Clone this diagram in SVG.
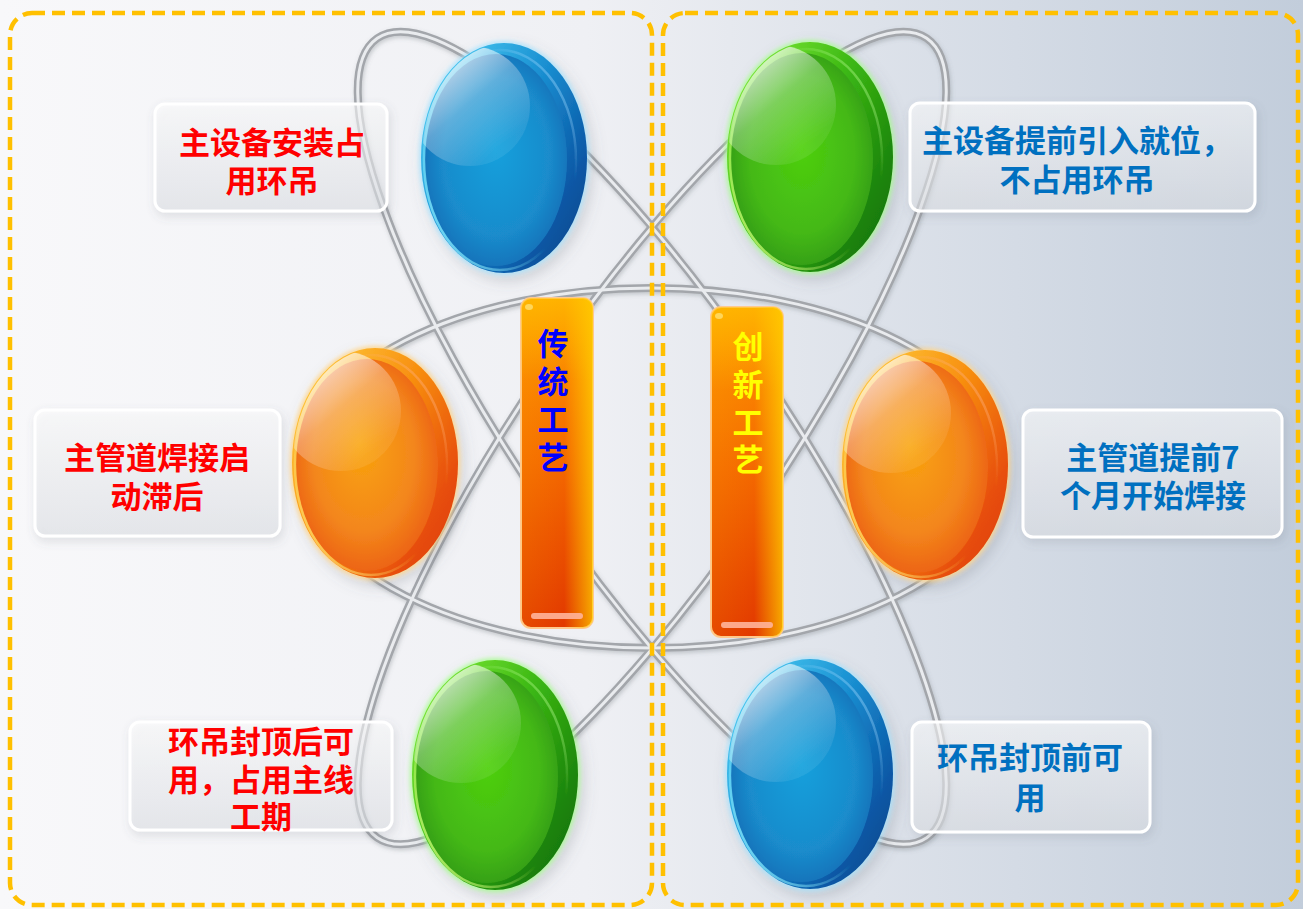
<svg xmlns="http://www.w3.org/2000/svg" xmlns:xlink="http://www.w3.org/1999/xlink" width="1303" height="909" viewBox="0 0 1303 909">
  <style>
    .orbit { fill: none; stroke: #a3a6ab; stroke-width: 8; }
    .orbit-hi { fill: none; stroke: #e9ebee; stroke-width: 3; }
    .box { fill: url(#boxFill); stroke: #ffffff; stroke-width: 3; filter: url(#boxShadow); }
    .label { font-family: "Noto Sans CJK SC", "Noto Sans", sans-serif; font-weight: bold; font-size: 31px; text-anchor: middle; }
    .red { fill: #ff0000; }
    .blue { fill: #0070c0; }
    .bar-text { font-family: "Noto Sans CJK SC", "Noto Sans", sans-serif; font-weight: bold; font-size: 31px; text-anchor: middle; }
    .frame { fill: none; stroke: #ffc000; stroke-width: 4.5; stroke-dasharray: 13 7; }
  </style>
  <defs>
    <linearGradient id="bg" x1="0" y1="0" x2="1" y2="0">
      <stop offset="0" stop-color="#f8f8fa"/>
      <stop offset="0.45" stop-color="#eff0f4"/>
      <stop offset="1" stop-color="#c2cddb"/>
    </linearGradient>
    <linearGradient id="boxFill" x1="0" y1="0" x2="0" y2="1">
      <stop offset="0" stop-color="#ffffff" stop-opacity="0.55"/>
      <stop offset="1" stop-color="#dfe2e7" stop-opacity="0.55"/>
    </linearGradient>
    <filter id="boxShadow" x="-20%" y="-20%" width="140%" height="150%">
      <feDropShadow dx="2" dy="4" stdDeviation="5" flood-color="#5a6070" flood-opacity="0.22"/>
    </filter>
    <filter id="orbShadow" x="-30%" y="-30%" width="160%" height="160%">
      <feDropShadow dx="4" dy="6" stdDeviation="7" flood-color="#5a6070" flood-opacity="0.25"/>
    </filter>
    <filter id="lineShadow" x="-10%" y="-10%" width="120%" height="120%">
      <feDropShadow dx="1" dy="2" stdDeviation="2" flood-color="#606870" flood-opacity="0.3"/>
    </filter>
    <filter id="blur2"><feGaussianBlur stdDeviation="2"/></filter>

    <!-- gloss shared by every orb -->
    <linearGradient id="gloss" x1="0.1" y1="0.1" x2="0.75" y2="0.85">
      <stop offset="0" stop-color="#ffffff" stop-opacity="0.95"/>
      <stop offset="0.55" stop-color="#ffffff" stop-opacity="0.3"/>
      <stop offset="1" stop-color="#ffffff" stop-opacity="0.08"/>
    </linearGradient>
    <clipPath id="orbClip"><ellipse cx="0" cy="0" rx="82" ry="114"/></clipPath>

    <!-- blue -->
    <linearGradient id="rimBlue" x1="0" y1="0.1" x2="1" y2="0.9">
      <stop offset="0" stop-color="#4fd2f6"/>
      <stop offset="0.45" stop-color="#1a90d2"/>
      <stop offset="0.8" stop-color="#0a58a6"/>
      <stop offset="1" stop-color="#07468a"/>
    </linearGradient>
    <radialGradient id="faceBlue" cx="0.5" cy="0.5" r="0.62" fx="0.5" fy="0.45">
      <stop offset="0" stop-color="#12a0dc"/>
      <stop offset="0.6" stop-color="#1a8ccc"/>
      <stop offset="1" stop-color="#1462ae"/>
    </radialGradient>
    <linearGradient id="lineBlue" x1="0" y1="1" x2="1" y2="0">
      <stop offset="0" stop-color="#8ff0ff" stop-opacity="1"/>
      <stop offset="0.45" stop-color="#8ff0ff" stop-opacity="0"/>
      <stop offset="0.7" stop-color="#9fd8ff" stop-opacity="0"/>
      <stop offset="1" stop-color="#9fd8ff" stop-opacity="0.8"/>
    </linearGradient>

    <!-- green -->
    <linearGradient id="rimGreen" x1="0" y1="0.1" x2="1" y2="0.9">
      <stop offset="0" stop-color="#86ee3a"/>
      <stop offset="0.45" stop-color="#3cb814"/>
      <stop offset="0.8" stop-color="#1c860a"/>
      <stop offset="1" stop-color="#157008"/>
    </linearGradient>
    <radialGradient id="faceGreen" cx="0.5" cy="0.5" r="0.62" fx="0.5" fy="0.45">
      <stop offset="0" stop-color="#4ed00c"/>
      <stop offset="0.6" stop-color="#44b818"/>
      <stop offset="1" stop-color="#2a8e12"/>
    </radialGradient>
    <linearGradient id="lineGreen" x1="0" y1="1" x2="1" y2="0">
      <stop offset="0" stop-color="#d8ff80" stop-opacity="1"/>
      <stop offset="0.45" stop-color="#d8ff80" stop-opacity="0"/>
      <stop offset="0.7" stop-color="#b8ff90" stop-opacity="0"/>
      <stop offset="1" stop-color="#b8ff90" stop-opacity="0.8"/>
    </linearGradient>

    <!-- orange -->
    <linearGradient id="rimOrange" x1="0" y1="0.1" x2="1" y2="0.9">
      <stop offset="0" stop-color="#ffd040"/>
      <stop offset="0.45" stop-color="#f89010"/>
      <stop offset="0.8" stop-color="#e85008"/>
      <stop offset="1" stop-color="#de3a06"/>
    </linearGradient>
    <radialGradient id="faceOrange" cx="0.5" cy="0.5" r="0.65" fx="0.45" fy="0.4">
      <stop offset="0" stop-color="#f9a40c"/>
      <stop offset="0.55" stop-color="#f3861c"/>
      <stop offset="1" stop-color="#e84a0c"/>
    </radialGradient>
    <linearGradient id="lineOrange" x1="0" y1="1" x2="1" y2="0">
      <stop offset="0" stop-color="#ffe070" stop-opacity="1"/>
      <stop offset="0.45" stop-color="#ffe070" stop-opacity="0"/>
      <stop offset="0.7" stop-color="#ffb080" stop-opacity="0"/>
      <stop offset="1" stop-color="#ffb080" stop-opacity="0.8"/>
    </linearGradient>

    <!-- orb templates drawn around the origin -->
    <g id="orbBlue" filter="url(#orbShadow)">
      <ellipse rx="85" ry="117" fill="#a8e4ff" opacity="0.8" filter="url(#blur2)"/>
      <ellipse rx="83" ry="115" fill="url(#rimBlue)"/>
      <ellipse cx="-8" cy="2" rx="71" ry="106" fill="url(#faceBlue)"/>
      <ellipse cx="-4" cy="2" rx="76" ry="110" fill="none" stroke="url(#lineBlue)" stroke-width="2.5"/>
      <ellipse cx="-34" cy="-52" rx="60" ry="60" fill="url(#gloss)" clip-path="url(#orbClip)"/>
    </g>
    <g id="orbGreen" filter="url(#orbShadow)">
      <ellipse rx="85" ry="117" fill="#a8ff90" opacity="0.8" filter="url(#blur2)"/>
      <ellipse rx="83" ry="115" fill="url(#rimGreen)"/>
      <ellipse cx="-8" cy="2" rx="71" ry="106" fill="url(#faceGreen)"/>
      <ellipse cx="-4" cy="2" rx="76" ry="110" fill="none" stroke="url(#lineGreen)" stroke-width="2.5"/>
      <ellipse cx="-34" cy="-52" rx="60" ry="60" fill="url(#gloss)" clip-path="url(#orbClip)"/>
    </g>
    <g id="orbOrange" filter="url(#orbShadow)">
      <ellipse rx="85" ry="117" fill="#ffd890" opacity="0.9" filter="url(#blur2)"/>
      <ellipse rx="83" ry="115" fill="url(#rimOrange)"/>
      <ellipse cx="-8" cy="2" rx="71" ry="106" fill="url(#faceOrange)"/>
      <ellipse cx="-4" cy="2" rx="76" ry="110" fill="none" stroke="url(#lineOrange)" stroke-width="2.5"/>
      <ellipse cx="-34" cy="-52" rx="60" ry="60" fill="url(#gloss)" clip-path="url(#orbClip)"/>
    </g>

    <!-- vertical bars -->
    <linearGradient id="barV" x1="0" y1="0" x2="0" y2="1">
      <stop offset="0" stop-color="#ff9800"/>
      <stop offset="0.5" stop-color="#f46800"/>
      <stop offset="1" stop-color="#e23800"/>
    </linearGradient>
    <linearGradient id="barH" x1="0" y1="0" x2="1" y2="0">
      <stop offset="0" stop-color="#ffd000" stop-opacity="0.12"/>
      <stop offset="0.6" stop-color="#ffd000" stop-opacity="0"/>
      <stop offset="1" stop-color="#ffd800" stop-opacity="0.7"/>
    </linearGradient>
    <linearGradient id="barTop" x1="0" y1="0" x2="0" y2="1">
      <stop offset="0" stop-color="#ffc800" stop-opacity="0.55"/>
      <stop offset="0.25" stop-color="#ffc800" stop-opacity="0"/>
    </linearGradient>
    <g id="bar">
      <rect x="0" y="0" width="72" height="330" rx="10" fill="url(#barV)" stroke="#ffc890" stroke-width="2"/>
      <rect x="0" y="0" width="72" height="330" rx="10" fill="url(#barH)"/>
      <rect x="0" y="0" width="72" height="330" rx="10" fill="url(#barTop)"/>
      <rect x="10" y="315" width="52" height="6" rx="3" fill="#ffb49a" opacity="0.9"/>
      <ellipse cx="8" cy="9" rx="4" ry="3" fill="#ffe070" opacity="0.8"/>
    </g>
  </defs>

  <!-- backdrop -->
  <rect x="0" y="0" width="1303" height="909" fill="url(#bg)"/>

  <!-- orbit rings -->
  <g id="connectors" filter="url(#lineShadow)">
    <ellipse class="orbit" cx="652" cy="468" rx="350" ry="180"/>
    <ellipse class="orbit" cx="652" cy="438" rx="485" ry="128" transform="rotate(55.5 652 438)"/>
    <ellipse class="orbit" cx="652" cy="438" rx="485" ry="128" transform="rotate(-55.5 652 438)"/>
    <ellipse class="orbit-hi" cx="652" cy="468" rx="350" ry="180"/>
    <ellipse class="orbit-hi" cx="652" cy="438" rx="485" ry="128" transform="rotate(55.5 652 438)"/>
    <ellipse class="orbit-hi" cx="652" cy="438" rx="485" ry="128" transform="rotate(-55.5 652 438)"/>
  </g>

  <!-- centre bars -->
  <g id="bar-traditional">
    <use xlink:href="#bar" href="#bar" transform="translate(521 298)"/>
    <text class="bar-text" fill="#0000ff"><tspan x="553" y="355">传</tspan><tspan x="553" y="393">统</tspan><tspan x="553" y="431">工</tspan><tspan x="553" y="469">艺</tspan></text>
  </g>
  <g id="bar-innovative">
    <use xlink:href="#bar" href="#bar" transform="translate(711 307)"/>
    <text class="bar-text" fill="#ffff00"><tspan x="748" y="358">创</tspan><tspan x="748" y="396">新</tspan><tspan x="748" y="434">工</tspan><tspan x="748" y="471">艺</tspan></text>
  </g>

  <!-- orbs -->
  <g id="orb-top-left"><use xlink:href="#orbBlue" href="#orbBlue" transform="translate(504 158)"/></g>
  <g id="orb-top-right"><use xlink:href="#orbGreen" href="#orbGreen" transform="translate(810 157)"/></g>
  <g id="orb-mid-left"><use xlink:href="#orbOrange" href="#orbOrange" transform="translate(375 463)"/></g>
  <g id="orb-mid-right"><use xlink:href="#orbOrange" href="#orbOrange" transform="translate(925 465)"/></g>
  <g id="orb-bottom-left"><use xlink:href="#orbGreen" href="#orbGreen" transform="translate(495 775)"/></g>
  <g id="orb-bottom-right"><use xlink:href="#orbBlue" href="#orbBlue" transform="translate(810 774)"/></g>

  <!-- text boxes -->
  <g id="note-equipment-old">
    <rect class="box" x="155" y="104" width="232" height="107" rx="10"/>
    <text class="label red"><tspan x="272" y="154">主设备安装占</tspan><tspan x="272" y="192">用环吊</tspan></text>
  </g>
  <g id="note-equipment-new">
    <rect class="box" x="910" y="103" width="345" height="108" rx="10"/>
    <text class="label blue"><tspan x="1077" y="152">主设备提前引入就位，</tspan><tspan x="1077" y="191">不占用环吊</tspan></text>
  </g>
  <g id="note-pipe-old">
    <rect class="box" x="35" y="410" width="245" height="126" rx="10"/>
    <text class="label red"><tspan x="157" y="469">主管道焊接启</tspan><tspan x="157" y="508">动滞后</tspan></text>
  </g>
  <g id="note-pipe-new">
    <rect class="box" x="1023" y="410" width="259" height="127" rx="10"/>
    <text class="label blue"><tspan x="1153" y="469">主管道提前7</tspan><tspan x="1153" y="507">个月开始焊接</tspan></text>
  </g>
  <g id="note-crane-old">
    <rect class="box" x="130" y="722" width="262" height="108" rx="10"/>
    <text class="label red"><tspan x="261" y="753">环吊封顶后可</tspan><tspan x="261" y="791">用，占用主线</tspan><tspan x="261" y="828">工期</tspan></text>
  </g>
  <g id="note-crane-new">
    <rect class="box" x="912" y="722" width="238" height="110" rx="10"/>
    <text class="label blue"><tspan x="1030" y="769">环吊封顶前可</tspan><tspan x="1030" y="809">用</tspan></text>
  </g>

  <!-- dashed panels -->
  <g id="panels">
    <rect class="frame" x="10" y="13" width="642" height="892" rx="22"/>
    <rect class="frame" x="663" y="13" width="635" height="892" rx="22"/>
  </g>
</svg>
